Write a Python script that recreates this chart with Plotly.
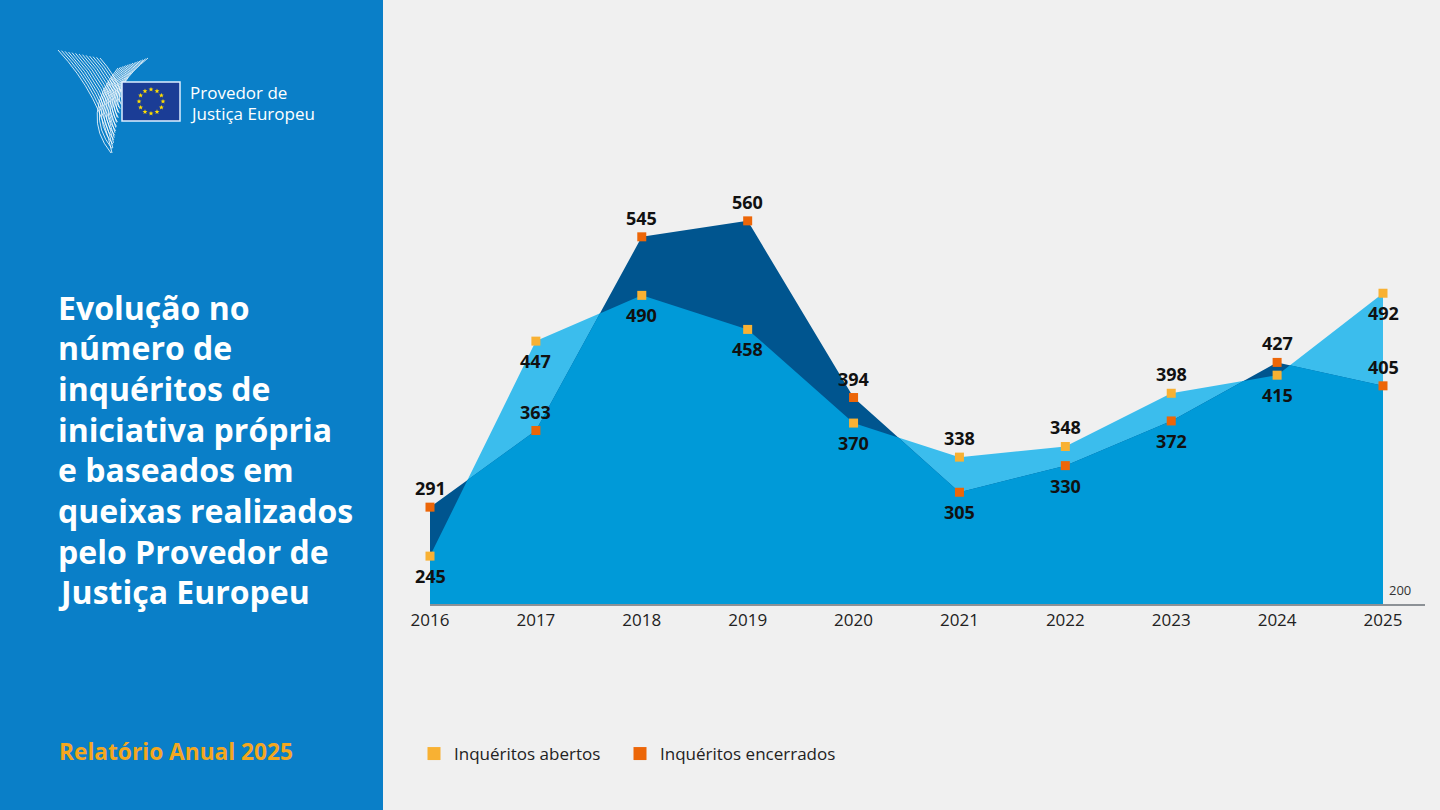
import math
import plotly.graph_objects as go

# Data
years = [2016, 2017, 2018, 2019, 2020, 2021, 2022, 2023, 2024, 2025]
abertos = [245, 447, 490, 458, 370, 338, 348, 398, 415, 492]
encerrados = [291, 363, 545, 560, 394, 305, 330, 372, 427, 405]

# label above (+1) or below (-1) its marker
side_abertos = [-1, -1, -1, -1, -1, 1, 1, 1, -1, -1]
side_encerrados = [1, 1, 1, 1, 1, -1, -1, -1, 1, 1]

title_lines = ["Evolução no", "número de", "inquéritos de", "iniciativa própria",
               "e baseados em", "queixas realizados", "pelo Provedor de", "Justiça Europeu"]

LIGHT = "#3BBDED"
MEDIUM = "#009AD8"
DARK = "#00558F"
PANEL = "#0A7FC8"
YELLOW = "#F8B133"
ORANGE = "#EC6608"
FONT = "Open Sans"

# plot area in pixels
L, R, T, B = 430, 15, 157, 206
PW, PH = 1440 - L - R, 810 - T - B


def pxx(x):
    return (x - L) / PW


def pxy(y):
    return (810 - B - y) / PH


def lower_envelope(x, a, b):
    xs, ys = [], []
    for i in range(len(x)):
        xs.append(x[i])
        ys.append(min(a[i], b[i]))
        if i < len(x) - 1:
            d0, d1 = a[i] - b[i], a[i + 1] - b[i + 1]
            if d0 * d1 < 0:
                t = d0 / (d0 - d1)
                xs.append(x[i] + t * (x[i + 1] - x[i]))
                ys.append(a[i] + t * (a[i + 1] - a[i]))
    return xs, ys


def star_path(cx, cy, r):
    pts = []
    for k in range(10):
        ang = math.pi / 2 + k * math.pi / 5
        rr = r if k % 2 == 0 else r * 0.42
        pts.append(f"{pxx(cx + rr * math.cos(ang))},{pxy(cy - rr * math.sin(ang))}")
    return "M " + " L ".join(pts) + " Z"


def lerp(p, q, t):
    return p + (q - p) * t


fig = go.Figure()

fig.add_trace(go.Scatter(x=years, y=abertos, mode="lines", fill="tozeroy",
                         fillcolor=LIGHT, line=dict(width=0), showlegend=False, hoverinfo="skip"))
fig.add_trace(go.Scatter(x=years, y=encerrados, mode="lines", fill="tozeroy",
                         fillcolor=DARK, line=dict(width=0), showlegend=False, hoverinfo="skip"))
mx, my = lower_envelope(years, abertos, encerrados)
fig.add_trace(go.Scatter(x=mx, y=my, mode="lines", fill="tozeroy",
                         fillcolor=MEDIUM, line=dict(width=0), showlegend=False, hoverinfo="skip"))

fig.add_trace(go.Scatter(x=years, y=abertos, mode="markers", cliponaxis=False,
                         marker=dict(symbol="square", size=9, color=YELLOW),
                         name="Inquéritos abertos", showlegend=False))
fig.add_trace(go.Scatter(x=years, y=encerrados, mode="markers", cliponaxis=False,
                         marker=dict(symbol="square", size=9, color=ORANGE),
                         name="Inquéritos encerrados", showlegend=False))

# legend entries, one legend each so they sit where the reference has them
fig.add_trace(go.Scatter(x=[None], y=[None], mode="markers", name="Inquéritos abertos",
                         marker=dict(symbol="square", size=13, color=YELLOW), legend="legend"))
fig.add_trace(go.Scatter(x=[None], y=[None], mode="markers", name="Inquéritos encerrados",
                         marker=dict(symbol="square", size=13, color=ORANGE), legend="legend2"))

shapes = [
    dict(type="rect", xref="paper", yref="paper", x0=pxx(-5), x1=pxx(383),
         y0=pxy(815), y1=pxy(-5), fillcolor=PANEL, line=dict(width=0), layer="below"),
]

# logo: two wings drawn as bundles of thin white curves (outer curve, inner curve)
wings = [
    [((58, 50), (100, 95), (112, 153)), ((100, 58), (115, 75), (121, 92))],
    [((118, 68), (80, 115), (111, 153)), ((148, 58), (115, 85), (122, 100))],
]
swoosh = dict(color="rgba(255,255,255,0.92)", width=0.9)
n = 13
for outer, inner in wings:
    for i in range(n):
        t = i / (n - 1)
        pts = [(pxx(lerp(a[0], b[0], t)), pxy(lerp(a[1], b[1], t))) for a, b in zip(outer, inner)]
        shapes.append(dict(type="path", xref="paper", yref="paper",
                           path=f"M {pts[0][0]},{pts[0][1]} Q {pts[1][0]},{pts[1][1]} {pts[2][0]},{pts[2][1]}",
                           line=swoosh))

# EU flag
shapes.append(dict(type="rect", xref="paper", yref="paper", x0=pxx(122), x1=pxx(180),
                   y0=pxy(121), y1=pxy(82), fillcolor="#1B3D96",
                   line=dict(color="#DDEEFF", width=1.5)))
for k in range(12):
    a = 2 * math.pi * k / 12
    shapes.append(dict(type="path", xref="paper", yref="paper",
                       path=star_path(151 + 12 * math.sin(a), 101.5 - 12 * math.cos(a), 2.6),
                       fillcolor="#FFDD00", line=dict(width=0)))

annotations = [
    dict(xref="paper", yref="paper", x=pxx(188), y=pxy(92), text="Provedor de",
         showarrow=False, xanchor="left", yanchor="middle", font=dict(family=FONT, size=17, color="white")),
    dict(xref="paper", yref="paper", x=pxx(188), y=pxy(113), text="Justiça Europeu",
         showarrow=False, xanchor="left", yanchor="middle", font=dict(family=FONT, size=17, color="white")),
    dict(xref="paper", yref="paper", x=pxx(57), y=pxy(751), text="Relatório Anual 2025",
         showarrow=False, xanchor="left", yanchor="middle",
         font=dict(family=FONT, size=22.7, color="#F3A71F", weight="bold")),
    dict(x=2025, y=200, xref="x", yref="y", text="200", showarrow=False, xanchor="left",
         yanchor="bottom", xshift=4, yshift=3, font=dict(family=FONT, size=13, color="#333333")),
]
for i, line in enumerate(title_lines):
    annotations.append(dict(xref="paper", yref="paper", x=pxx(56), y=pxy(307 + 40.7 * i),
                            text=line, showarrow=False, xanchor="left", yanchor="middle",
                            font=dict(family=FONT, size=32, color="white", weight="bold")))

# value labels
label_font = dict(family=FONT, size=18, color="#111111", weight="bold")
for series, sides in [(abertos, side_abertos), (encerrados, side_encerrados)]:
    for yr, v, s in zip(years, series, sides):
        annotations.append(dict(x=yr, y=v, xref="x", yref="y", text=str(v), showarrow=False,
                                xanchor="center", yanchor="middle",
                                yshift=19 if s > 0 else -20, font=label_font))

legend_style = dict(orientation="h", y=pxy(754), xanchor="left", yanchor="middle",
                    font=dict(size=17, color="#222222"), bgcolor="rgba(0,0,0,0)")

fig.update_layout(
    width=1440, height=810,
    margin=dict(l=L, r=R, t=T, b=B),
    paper_bgcolor="#F0F0F0", plot_bgcolor="#F0F0F0",
    font=dict(family=FONT, size=17, color="#222222"),
    xaxis=dict(range=[2016, 2025 + 42 / 105.9], tickvals=years, showgrid=False, zeroline=False,
               showline=True, linecolor="#8C9196", linewidth=1.5, ticks="",
               tickfont=dict(size=17, color="#222222")),
    yaxis=dict(range=[200, 620], showgrid=False, zeroline=False, showticklabels=False),
    legend=dict(x=pxx(414), **legend_style),
    legend2=dict(x=pxx(620), **legend_style),
    shapes=shapes,
    annotations=annotations,
)

fig.write_html("out.html", config={"displayModeBar": False},
               post_script="document.body.style.margin='0px';")
